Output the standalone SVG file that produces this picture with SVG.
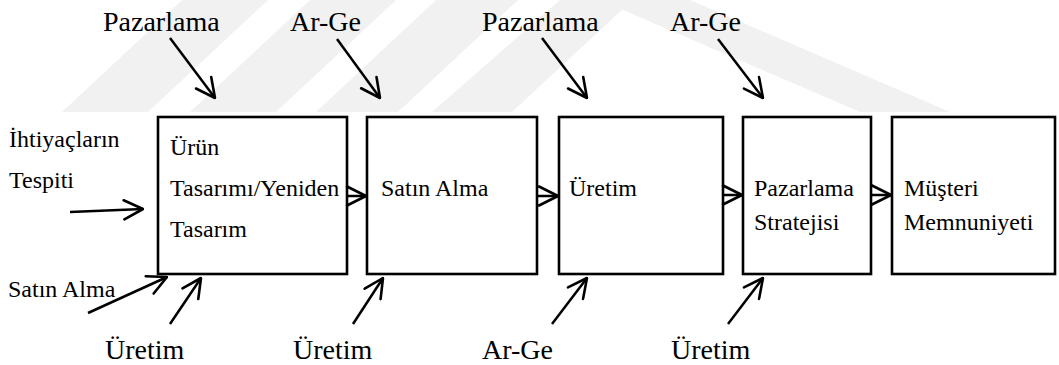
<svg xmlns="http://www.w3.org/2000/svg" width="1059" height="365" viewBox="0 0 1059 365">
  <style>
    .box{fill:#fff;stroke:#000;stroke-width:2.6}
    .t{font-family:"Liberation Serif","Times New Roman","DejaVu Serif",serif;fill:#000}
    .big{font-size:28px}
    .mid{font-size:24px}
    .wire{fill:none;stroke:#000;stroke-width:2.5;marker-end:url(#head)}
    .wm{fill:#f1f1f1}
  </style>
  <defs>
    <marker id="head" viewBox="0 0 22 22" refX="21" refY="11" markerWidth="22" markerHeight="22" markerUnits="userSpaceOnUse" orient="auto">
      <path d="M2,1.5 L21,11 L2,20.5" fill="none" stroke="#000" stroke-width="2.6" stroke-linejoin="round" stroke-linecap="round"/>
    </marker>
  </defs>
  <rect width="1059" height="365" fill="#fff"/>

  <!-- faint background stripes -->
  <g id="watermark">
    <polygon class="wm" points="62,112 148,112 268,0 182,0"/>
    <polygon class="wm" points="190,112 276,112 396,0 310,0"/>
    <polygon class="wm" points="316,112 398,112 518,0 436,0"/>
    <polygon class="wm" points="432,112 512,112 624,8 600,0 560,0"/>
    <polygon class="wm" points="600,0 690,0 950,112 860,112"/>
  </g>

  <!-- process boxes -->
  <g id="n-urun-tasarimi">
    <rect class="box" x="158" y="117" width="189" height="157"/>
    <text class="t mid" x="170" y="155">Ürün</text>
    <text class="t mid" x="170" y="196">Tasarımı/Yeniden</text>
    <text class="t mid" x="170" y="237">Tasarım</text>
  </g>
  <g id="n-satin-alma">
    <rect class="box" x="367" y="117" width="170" height="157"/>
    <text class="t mid" x="381" y="196">Satın Alma</text>
  </g>
  <g id="n-uretim">
    <rect class="box" x="559" y="117" width="164" height="157"/>
    <text class="t mid" x="569" y="196">Üretim</text>
  </g>
  <g id="n-pazarlama-stratejisi">
    <rect class="box" x="743" y="117" width="128" height="157"/>
    <text class="t mid" x="754" y="196">Pazarlama</text>
    <text class="t mid" x="754" y="230">Stratejisi</text>
  </g>
  <g id="n-musteri-memnuniyeti">
    <rect class="box" x="892" y="117" width="163" height="157"/>
    <text class="t mid" x="904" y="196">Müşteri</text>
    <text class="t mid" x="904" y="230">Memnuniyeti</text>
  </g>

  <!-- input labels -->
  <g id="n-top-pazarlama-1"><text class="t big" x="103" y="31">Pazarlama</text></g>
  <g id="n-top-arge-1"><text class="t big" x="290" y="31">Ar-Ge</text></g>
  <g id="n-top-pazarlama-2"><text class="t big" x="482" y="31">Pazarlama</text></g>
  <g id="n-top-arge-2"><text class="t big" x="670" y="31">Ar-Ge</text></g>
  <g id="n-bot-uretim-1"><text class="t big" x="105" y="359">Üretim</text></g>
  <g id="n-bot-uretim-2"><text class="t big" x="293" y="359">Üretim</text></g>
  <g id="n-bot-arge"><text class="t big" x="482" y="359">Ar-Ge</text></g>
  <g id="n-bot-uretim-3"><text class="t big" x="671" y="359">Üretim</text></g>
  <g id="n-ihtiyac">
    <text class="t mid" x="9" y="147">İhtiyaçların</text>
    <text class="t mid" x="9" y="188">Tespiti</text>
  </g>
  <g id="n-left-satin-alma"><text class="t mid" x="8" y="297">Satın Alma</text></g>

  <!-- connectors -->
  <g id="connectors">
    <path class="wire" d="M170,38 L215,98"/>
    <path class="wire" d="M337,39 L380,98"/>
    <path class="wire" d="M542,38 L587,98"/>
    <path class="wire" d="M718,39 L763,98"/>
    <path class="wire" d="M70,212 L143,209"/>
    <path class="wire" d="M88,313 L167,277"/>
    <path class="wire" d="M170,324 L201,278"/>
    <path class="wire" d="M353,324 L383,278"/>
    <path class="wire" d="M552,324 L587,278"/>
    <path class="wire" d="M728,324 L763,278"/>
    <path class="wire" d="M347,196 L366,196"/>
    <path class="wire" d="M537,196 L558,196"/>
    <path class="wire" d="M723,195 L742,195"/>
    <path class="wire" d="M871,195 L891,195"/>
  </g>
</svg>
